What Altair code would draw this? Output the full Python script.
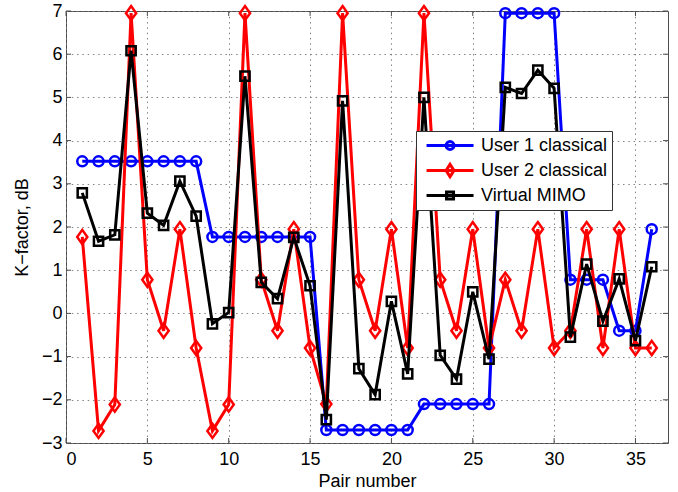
import altair as alt
import pandas as pd

# ---- data ----
pair = list(range(1, 37))
user1 = [3.52, 3.52, 3.52, 3.52, 3.52, 3.52, 3.52, 3.52,
         1.77, 1.77, 1.77, 1.77, 1.77, 1.77, 1.77,
         -2.70, -2.70, -2.70, -2.70, -2.70, -2.70,
         -2.10, -2.10, -2.10, -2.10, -2.10,
         6.95, 6.95, 6.95, 6.95,
         0.78, 0.78, 0.78,
         -0.40, -0.40,
         1.95]
user2 = [1.77, -2.72, -2.11, 6.95, 0.78, -0.40, 1.95, -0.80,
         -2.72, -2.11, 6.95, 0.78, -0.40, 1.95, -0.80,
         -2.10, 6.95, 0.78, -0.40, 1.95, -0.80,
         6.95, 0.78, -0.40, 1.95, -0.80,
         0.78, -0.40, 1.95, -0.80,
         -0.40, 1.95, -0.80,
         1.95, -0.80,
         -0.80]
vmimo = [2.79, 1.67, 1.82, 6.08, 2.32, 2.04, 3.06, 2.25, -0.24, 0.02,
         5.49, 0.72, 0.34, 1.76, 0.64, -2.46, 4.92, -1.28, -1.88, 0.28,
         -1.40, 5.00, -0.97, -1.52, 0.50, -1.06, 5.23, 5.09, 5.63, 5.21,
         -0.55, 1.14, -0.18, 0.80, -0.63, 1.08]
series_names = ["User 1 classical", "User 2 classical", "Virtual MIMO"]
x_ticks = [0, 5, 10, 15, 20, 25, 30, 35]
y_ticks = [-3, -2, -1, 0, 1, 2, 3, 4, 5, 6, 7]

colors = ["#0000ff", "#ff0000", "#000000"]
FONT = "Liberation Sans"
W, H = 602, 432
FRAME = "#4d4d4d"

frames = []
for name, vals in zip(series_names, [user1, user2, vmimo]):
    frames.append(pd.DataFrame({"pair": pair, "k": vals, "series": name}))
df = pd.concat(frames, ignore_index=True)
xt = pd.DataFrame({"pair": x_ticks})
yt = pd.DataFrame({"k": y_ticks})

xscale = alt.Scale(domain=[0, 37], nice=False)
yscale = alt.Scale(domain=[-3, 7], nice=False)
xenc = alt.X("pair:Q", scale=xscale,
             axis=alt.Axis(values=x_ticks, title="Pair number"))
yenc = alt.Y("k:Q", scale=yscale,
             axis=alt.Axis(values=y_ticks, title="K\u2212factor, dB"))

diamond_path = "M0,-1L0.72,0L0,1L-0.72,0Z"
shapes = ["circle", diamond_path, "square"]
sizes = [100, 200, 85]

layers = []
# inward tick marks (MATLAB style) on all four sides
tl = 5
layers.append(alt.Chart(xt).mark_rule(color=FRAME, strokeWidth=1).encode(
    x=alt.X("pair:Q", scale=xscale), y=alt.value(H), y2=alt.value(H - tl)))
layers.append(alt.Chart(xt).mark_rule(color=FRAME, strokeWidth=1).encode(
    x=alt.X("pair:Q", scale=xscale), y=alt.value(0), y2=alt.value(tl)))
layers.append(alt.Chart(yt).mark_rule(color=FRAME, strokeWidth=1).encode(
    y=alt.Y("k:Q", scale=yscale), x=alt.value(0), x2=alt.value(tl)))
layers.append(alt.Chart(yt).mark_rule(color=FRAME, strokeWidth=1).encode(
    y=alt.Y("k:Q", scale=yscale), x=alt.value(W), x2=alt.value(W - tl)))

for name, col, shp, sz in zip(series_names, colors, shapes, sizes):
    sub = alt.Chart(df).transform_filter(alt.datum.series == name)
    layers.append(sub.mark_line(color=col, strokeWidth=3).encode(x=xenc, y=yenc))
    layers.append(sub.mark_point(shape=shp, size=sz, filled=False, color=col,
                                 strokeWidth=2.5, opacity=1).encode(x=xenc, y=yenc))

# legend-only layer (invisible points); symbols are line + marker paths
leg_shapes = [
    "M-0.44,0L4.78,0M1.73,0A0.44,0.44,0,1,1,2.61,0A0.44,0.44,0,1,1,1.73,0",
    "M-0.44,0L4.78,0M2.17,-0.68L2.61,0L2.17,0.68L1.73,0Z",
    "M-0.44,0L4.78,0M1.78,-0.39L2.56,-0.39L2.56,0.39L1.78,0.39Z",
]
leg = alt.Legend(orient="none", legendX=350, legendY=120,
                 title=None, fillColor="white",
                 strokeColor="#333333", padding=4,
                 cornerRadius=0, labelFontSize=18,
                 labelFont=FONT, labelColor="black",
                 labelLimit=400, labelOffset=40,
                 symbolSize=324, symbolStrokeWidth=3,
                 symbolOpacity=1, symbolFillColor="transparent",
                 rowPadding=2)
legend_layer = alt.Chart(df).mark_point(
    filled=False, strokeWidth=3, opacity=0
).encode(
    x=xenc, y=yenc,
    color=alt.Color("series:N", scale=alt.Scale(domain=series_names, range=colors),
                    legend=leg),
    shape=alt.Shape("series:N", scale=alt.Scale(domain=series_names, range=leg_shapes),
                    legend=leg),
)
layers.append(legend_layer)

chart = alt.layer(*layers).properties(
    width=W, height=H,
    padding={"left": 66, "top": 11, "right": 10, "bottom": 49},
    autosize=alt.AutoSizeParams(type="none"),
    background="white",
).configure_view(
    stroke=FRAME, strokeWidth=1
).configure_axis(
    domain=False, ticks=False,
    grid=True, gridColor="#777777", gridDash=[1.5, 3.8], gridWidth=1, gridOpacity=0.9,
    labelFont=FONT, labelFontSize=18, labelColor="black",
    titleFont=FONT, titleFontSize=18, titleColor="black", titleFontWeight="normal",
).configure_axisX(
    labelPadding=7, titlePadding=4
).configure_axisY(
    labelPadding=4, titlePadding=10
)

chart.save("out.html", embed_options={"renderer": "svg", "actions": False})
